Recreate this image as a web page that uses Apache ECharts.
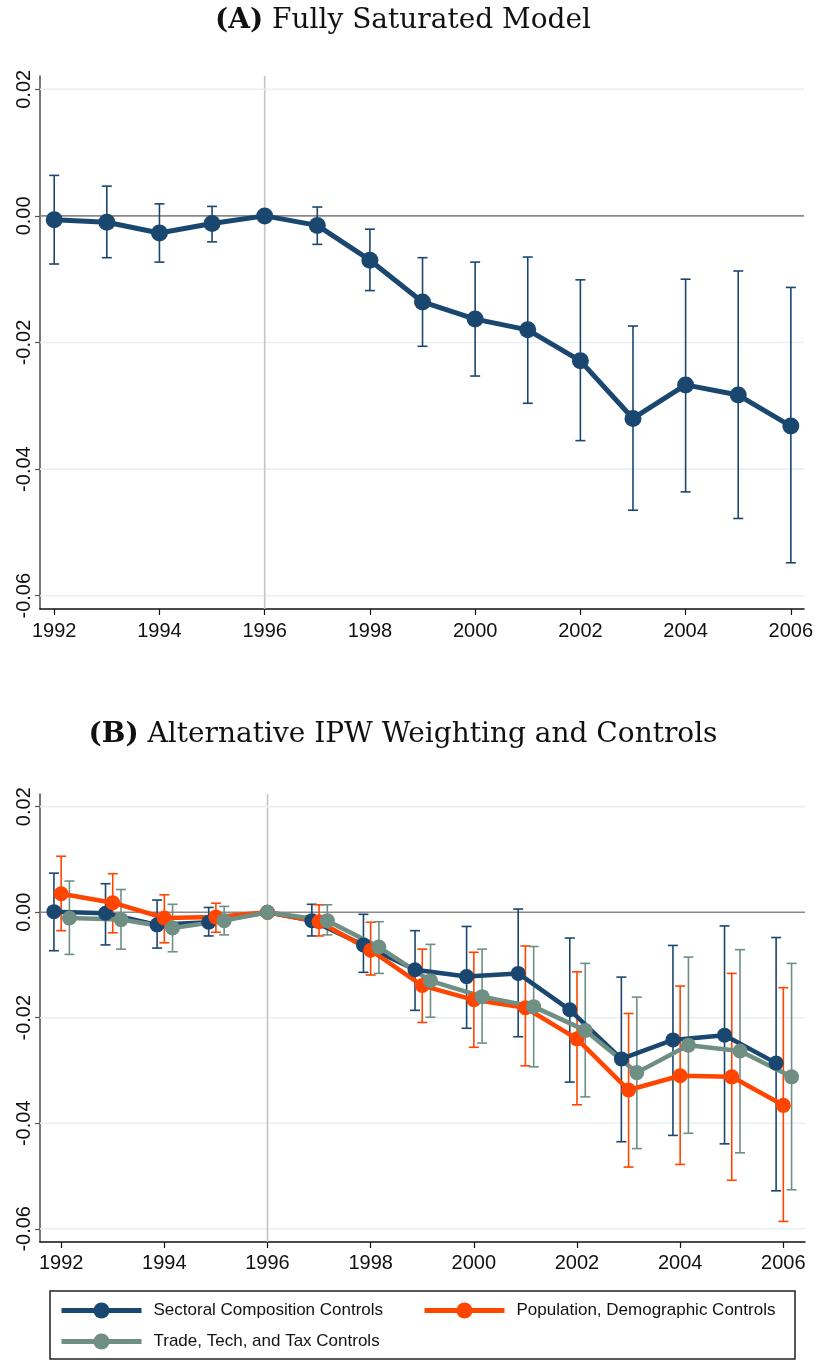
<!DOCTYPE html>
<html>
<head>
<meta charset="utf-8">
<script src="https://cdn.jsdelivr.net/npm/echarts@6.0.0/dist/echarts.min.js"></script>
<style>
  html, body { margin: 0; padding: 0; background: #fff; }
  #chart { width: 817px; height: 1361px; }
</style>
</head>
<body>
<div id="chart"></div>
<script>
// event years, reference year is 1996
var years = [1992, 1993, 1994, 1995, 1996, 1997, 1998, 1999, 2000, 2001, 2002, 2003, 2004, 2005, 2006];
var baseYear = 1996;
var xTicks = [1992, 1994, 1996, 1998, 2000, 2002, 2004, 2006];
var yTicks = [-0.06, -0.04, -0.02, 0, 0.02];

// (A) fully saturated model
var satCoef = [-0.0006, -0.0010, -0.0027, -0.0012, 0, -0.0015, -0.0070, -0.0136, -0.0163, -0.0180, -0.0229, -0.0320, -0.0267, -0.0283, -0.0332];
var satHi   = [0.0064, 0.0047, 0.0019, 0.0015, null, 0.0014, -0.0021, -0.0066, -0.0073, -0.0065, -0.0101, -0.0174, -0.0100, -0.0087, -0.0113];
var satLo   = [-0.0076, -0.0066, -0.0073, -0.0041, null, -0.0045, -0.0118, -0.0206, -0.0253, -0.0296, -0.0355, -0.0465, -0.0436, -0.0478, -0.0548];

// (B) sectoral composition controls
var sectCoef = [0.0001, -0.0002, -0.0024, -0.0019, 0, -0.0016, -0.0062, -0.0109, -0.0122, -0.0116, -0.0185, -0.0278, -0.0242, -0.0233, -0.0286];
var sectHi   = [0.0074, 0.0054, 0.0023, 0.0009, null, 0.0015, -0.0004, -0.0035, -0.0027, 0.0006, -0.0049, -0.0123, -0.0063, -0.0026, -0.0048];
var sectLo   = [-0.0073, -0.0062, -0.0068, -0.0045, null, -0.0045, -0.0114, -0.0186, -0.0220, -0.0236, -0.0322, -0.0435, -0.0423, -0.0439, -0.0528];

// (B) population, demographic controls
var popCoef = [0.0035, 0.0018, -0.0011, -0.0009, 0, -0.0018, -0.0072, -0.0139, -0.0166, -0.0181, -0.0240, -0.0337, -0.0310, -0.0312, -0.0366];
var popHi   = [0.0106, 0.0073, 0.0033, 0.0017, null, 0.0014, -0.0019, -0.0070, -0.0076, -0.0064, -0.0113, -0.0192, -0.0140, -0.0116, -0.0143];
var popLo   = [-0.0035, -0.0039, -0.0058, -0.0038, null, -0.0045, -0.0119, -0.0209, -0.0256, -0.0291, -0.0365, -0.0483, -0.0478, -0.0508, -0.0586];

// (B) trade, tech, and tax controls
var tradeCoef = [-0.0011, -0.0014, -0.0030, -0.0016, 0, -0.0016, -0.0066, -0.0130, -0.0160, -0.0179, -0.0224, -0.0304, -0.0252, -0.0263, -0.0312];
var tradeHi   = [0.0059, 0.0043, 0.0015, 0.0011, null, 0.0014, -0.0018, -0.0061, -0.0070, -0.0065, -0.0097, -0.0161, -0.0085, -0.0071, -0.0097];
var tradeLo   = [-0.0080, -0.0070, -0.0075, -0.0043, null, -0.0043, -0.0116, -0.0199, -0.0248, -0.0293, -0.0350, -0.0448, -0.0419, -0.0456, -0.0526];

var NAVY = '#1a476f';
var ORANGE = '#ff4500';
var SEA = '#6f8f84';
var SANS = 'Liberation Sans';
var SERIF = 'DejaVu Serif';

function shift(y, off) {
    return y === baseYear ? y : y + off;
}

function linePoints(coef, off) {
    return years.map(function (y, i) { return [shift(y, off), coef[i]]; });
}

function barPoints(lo, hi, off) {
    var out = [];
    years.forEach(function (y, i) {
        if (hi[i] != null) out.push([shift(y, off), lo[i], hi[i]]);
    });
    return out;
}

// rcap style error bars
function capSeries(idx, color, lo, hi, off) {
    return {
        type: 'custom', xAxisIndex: idx, yAxisIndex: idx, z: 3, silent: true,
        encode: { x: 0, y: [1, 2] },
        data: barPoints(lo, hi, off),
        renderItem: function (params, api) {
            var x = api.value(0);
            var top = api.coord([x, api.value(2)]);
            var bot = api.coord([x, api.value(1)]);
            var st = { stroke: color, lineWidth: 1.6 };
            return {
                type: 'group', children: [
                    { type: 'line', shape: { x1: top[0], y1: top[1], x2: bot[0], y2: bot[1] }, style: st },
                    { type: 'line', shape: { x1: top[0] - 5, y1: top[1], x2: top[0] + 5, y2: top[1] }, style: st },
                    { type: 'line', shape: { x1: bot[0] - 5, y1: bot[1], x2: bot[0] + 5, y2: bot[1] }, style: st }
                ]
            };
        }
    };
}

function lineSeries(idx, name, color, coef, off, size, width) {
    return {
        type: 'line', name: name, xAxisIndex: idx, yAxisIndex: idx, z: 5,
        data: linePoints(coef, off),
        symbol: 'circle', symbolSize: size,
        lineStyle: { color: color, width: width },
        itemStyle: { color: color },
        emphasis: { disabled: true }
    };
}

// horizontal grid lines, zero line and the 1996 vertical line
function refSeries(idx) {
    return {
        type: 'custom', xAxisIndex: idx, yAxisIndex: idx, z: 1, silent: true,
        encode: { x: 0, y: 1 },
        data: yTicks.map(function (v) { return [baseYear, v]; }),
        renderItem: function (params, api) {
            var c = params.coordSys;
            var p = api.coord([api.value(0), api.value(1)]);
            var kids = [];
            if (api.value(1) === 0) {
                kids.push({ type: 'line', shape: { x1: p[0], y1: c.y, x2: p[0], y2: c.y + c.height }, style: { stroke: '#c4c4c4', lineWidth: 1.6 } });
                kids.push({ type: 'line', shape: { x1: c.x, y1: p[1], x2: c.x + c.width, y2: p[1] }, style: { stroke: '#8a8a8a', lineWidth: 1.6 } });
            } else {
                kids.push({ type: 'line', shape: { x1: c.x, y1: p[1], x2: c.x + c.width, y2: p[1] }, style: { stroke: '#e7eff2', lineWidth: 1.6 } });
            }
            return { type: 'group', children: kids };
        }
    };
}

function xAxisOf(idx, min, max, margin) {
    return {
        type: 'value', gridIndex: idx, min: min, max: max,
        splitLine: { show: false },
        axisLine: { onZero: false, lineStyle: { color: '#111', width: 1.5 } },
        axisTick: { customValues: xTicks, length: 6, lineStyle: { color: '#111', width: 1.2 } },
        axisLabel: {
            customValues: xTicks, margin: margin, color: '#111', fontFamily: SANS, fontSize: 20,
            formatter: function (v) { return String(v); }
        }
    };
}

function yAxisOf(idx, min, max) {
    return {
        type: 'value', gridIndex: idx, min: min, max: max,
        splitLine: { show: false },
        axisLine: { show: true, onZero: false, lineStyle: { color: '#555', width: 1.6 } },
        axisTick: { show: true, customValues: yTicks, length: 5, lineStyle: { color: '#555', width: 1.2 } },
        axisLabel: {
            customValues: yTicks, rotate: 90, margin: 6, color: '#111', fontFamily: SANS, fontSize: 20,
            formatter: function (v) { return v.toFixed(2); }
        }
    };
}

var legendText = { color: '#111', fontFamily: SANS, fontSize: 17, padding: [0, 0, 0, 7] };

function legendOf(names, left) {
    return {
        data: names, orient: 'vertical', left: left, top: 1302, padding: 0,
        itemWidth: 80, itemHeight: 20, itemGap: 14,
        lineStyle: { width: 5 },
        selectedMode: false, textStyle: legendText
    };
}

function titleOf(label, text, y) {
    return {
        type: 'text', x: 403, y: y,
        style: {
            text: '{b|' + label + '} ' + text, align: 'center', verticalAlign: 'middle',
            fontFamily: SERIF, fontSize: 28, fill: '#111',
            rich: { b: { fontFamily: SERIF, fontSize: 28, fontWeight: 'bold', fill: '#111' } }
        }
    };
}

var option = {
    animation: false,
    backgroundColor: '#fff',
    grid: [
        { left: 40, top: 76, width: 764, height: 533 },
        { left: 40, top: 794, width: 765, height: 448 }
    ],
    xAxis: [xAxisOf(0, 1991.73, 2006.25, 12), xAxisOf(1, 1991.59, 2006.42, 11)],
    yAxis: [yAxisOf(0, -0.0621, 0.0221), yAxisOf(1, -0.0625, 0.0224)],
    legend: [
        legendOf(['Sectoral Composition Controls', 'Trade, Tech, and Tax Controls'], 59),
        legendOf(['Population, Demographic Controls'], 422)
    ],
    graphic: [
        titleOf('(A)', 'Fully Saturated Model', 21),
        titleOf('(B)', 'Alternative IPW Weighting and Controls', 735),
        {
            type: 'rect', shape: { x: 50, y: 1291, width: 745, height: 68 },
            style: { fill: 'none', stroke: '#222', lineWidth: 1.5 }
        }
    ],
    series: [
        refSeries(0),
        capSeries(0, NAVY, satLo, satHi, 0),
        lineSeries(0, 'Fully Saturated Model', NAVY, satCoef, 0, 17, 5),

        refSeries(1),
        capSeries(1, NAVY, sectLo, sectHi, -0.14),
        capSeries(1, ORANGE, popLo, popHi, 0),
        capSeries(1, SEA, tradeLo, tradeHi, 0.16),
        lineSeries(1, 'Sectoral Composition Controls', NAVY, sectCoef, -0.14, 15, 4.5),
        lineSeries(1, 'Population, Demographic Controls', ORANGE, popCoef, 0, 15, 4.5),
        lineSeries(1, 'Trade, Tech, and Tax Controls', SEA, tradeCoef, 0.16, 15, 4.5)
    ]
};

var myChart = echarts.init(document.getElementById('chart'));
myChart.setOption(option);
</script>
</body>
</html>
